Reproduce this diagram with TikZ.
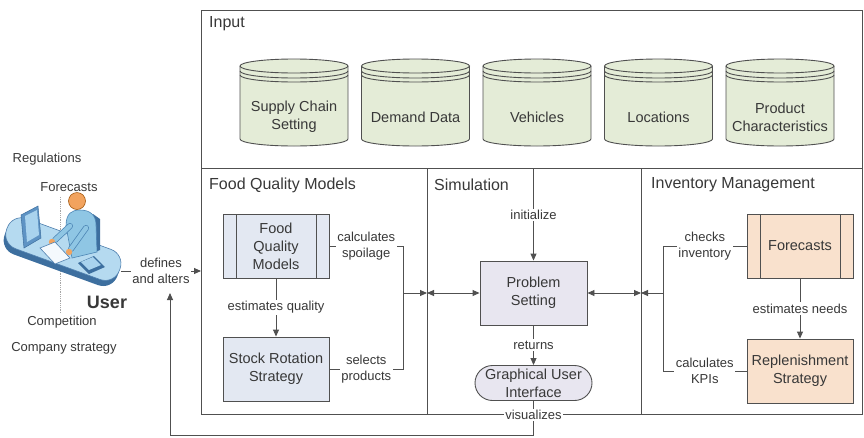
\documentclass[tikz,border=0pt]{standalone}
\usepackage{fontspec}
\setmainfont{Liberation Sans}
\usetikzlibrary{arrows.meta,shapes.misc}

\definecolor{ln}{HTML}{505050}
\definecolor{txt}{HTML}{383838}
\definecolor{cylfill}{HTML}{E4ECD7}
\definecolor{bluebox}{HTML}{E3E8F2}
\definecolor{lilac}{HTML}{E8E6F0}
\definecolor{peach}{HTML}{F9E1CD}
\definecolor{desktop}{HTML}{B5DAF0}
\definecolor{deskdark}{HTML}{3D6F9F}
\definecolor{deskline}{HTML}{4F7FAE}
\definecolor{shirt}{HTML}{8FC6E4}
\definecolor{shirtline}{HTML}{4D86B5}
\definecolor{skin}{HTML}{F2A35E}
\definecolor{monitor}{HTML}{5E93C4}
\definecolor{screen}{HTML}{A9D3EE}

% lower half of a 108 x 14 ellipse, from (#1-54,#2) to (#1+54,#2), bulging downwards
\newcommand\lowerhalf[2]{(#1-54,#2) .. controls (#1-54,#2+3.87) and (#1-29.8,#2+7) .. (#1,#2+7)
  .. controls (#1+29.8,#2+7) and (#1+54,#2+3.87) .. (#1+54,#2)}

\begin{document}
\begin{tikzpicture}[x=1pt,y=-1pt,
  every node/.style={text=txt, align=center, inner sep=0pt,
    font=\fontsize{14.5}{18}\selectfont},
  panel/.style={draw=ln, line width=1pt, anchor=north west},
  paneltitle/.style={anchor=west, font=\fontsize{16}{19}\selectfont},
  cylline/.style={draw=ln, line width=0.9pt},
  procbox/.style={draw=ln, line width=0.9pt, fill=#1,
    minimum width=106pt, minimum height=64pt,
    path picture={\draw[ln, line width=0.9pt]
      ([xshift=13pt]path picture bounding box.north west) --
      ([xshift=13pt]path picture bounding box.south west)
      ([xshift=-13pt]path picture bounding box.north east) --
      ([xshift=-13pt]path picture bounding box.south east);}},
  plainbox/.style={draw=ln, line width=0.9pt, fill=#1,
    minimum width=106pt, minimum height=64pt},
  lbl/.style={fill=white, inner sep=1.5pt, font=\fontsize{13}{15.5}\selectfont},
  side/.style={font=\fontsize{13}{15.5}\selectfont},
  link/.style={draw=ln, line width=0.9pt},
  arr/.style={-{Triangle[length=7pt,width=6pt]}},
  darr/.style={{Triangle[length=7pt,width=6pt]}-{Triangle[length=7pt,width=6pt]}}
]
\useasboundingbox (0,0) rectangle (864,437);

% ---- panels ----
\node[panel, minimum width=661pt, minimum height=158pt] (inp) at (201,10) {};
\node[panel, minimum width=226pt, minimum height=246pt] (fqp) at (201,168) {};
\node[panel, minimum width=214pt, minimum height=246pt] (simp) at (427,168) {};
\node[panel, minimum width=221pt, minimum height=246pt] (invp) at (641,168) {};

\node[paneltitle] (tinp) at (209,24) {Input};
\node[paneltitle] (tfq) at (209,185) {Food Quality Models};
\node[paneltitle] (tsim) at (434,185) {Simulation};
\node[paneltitle] (tinv) at (651,185) {Inventory Management};

% ---- data stores ----
\foreach \nm/\cx/\txt in {scs/294/{Supply Chain\\Setting}, dmd/415.5/{Demand Data},
    veh/537/{Vehicles}, loc/658.5/{Locations}, prc/780/{Product\\Characteristics}} {
  \fill[cylfill] (\cx-54,66) -- \lowerhalf{\cx}{139} -- (\cx+54,66) -- cycle;
  \fill[cylfill] (\cx,66) ellipse[x radius=54, y radius=7];
  \draw[cylline] (\cx-54,66) -- \lowerhalf{\cx}{139} -- (\cx+54,66);
  \draw[cylline] (\cx,66) ellipse[x radius=54, y radius=7];
  \draw[cylline] \lowerhalf{\cx}{71};
  \draw[cylline] \lowerhalf{\cx}{75};
  \node (\nm) at (\cx,117) {\txt};
}

% ---- food quality ----
\node[procbox=bluebox] (fqm) at (276,246) {Food\\Quality\\Models};
\node[plainbox=bluebox] (srs) at (276,369) {Stock Rotation\\Strategy};

% ---- simulation ----
\node[plainbox=lilac, minimum width=107pt] (ps) at (533.5,293) {Problem\\Setting};
\node[rounded rectangle, draw=ln, line width=0.9pt, fill=lilac,
  minimum width=117pt, minimum height=35pt] (gui) at (533.5,383) {Graphical User\\Interface};

% ---- inventory ----
\node[procbox=peach] (fc) at (800,246) {Forecasts};
\node[plainbox=peach] (rs) at (800,371) {Replenishment\\Strategy};

% ---- user side ----
\coordinate (dtop) at (60,197);
\coordinate (dbot) at (60,313);
\draw[gray!70, densely dotted, line width=0.8pt] (dtop) -- (dbot);

\begin{scope}[rotate around={-20:(63,250)}]
  \fill[deskdark, rounded corners=15pt] (3,239) rectangle (123,271);
  \fill[desktop, draw=deskline, line width=0.6pt, rounded corners=15pt] (3,233) rectangle (123,265);
\end{scope}
% monitor
\fill[monitor, draw=deskdark, line width=0.5pt] (21,215) -- (38,206) -- (41,238) -- (24,248) -- cycle;
\fill[screen] (25,216) -- (37,210) -- (39,235) -- (27,242) -- cycle;
% chair back and torso
\fill[deskdark] (93,214) -- (100,219) -- (100,250) -- (95,252) -- cycle;
\fill[shirt, draw=shirtline, line width=0.6pt] (66,226) .. controls (66,213) and (72,210) .. (80,210)
  .. controls (90,210) and (96,215) .. (96,225) -- (97,252) -- (72,258) -- cycle;
% arms and hands
\draw[shirtline, line width=6pt, line cap=round] (70,226) -- (55,240);
\draw[shirt, line width=4.5pt, line cap=round] (70,226) -- (55,240);
\draw[shirtline, line width=6pt, line cap=round] (86,228) -- (71,249);
\draw[shirt, line width=4.5pt, line cap=round] (86,228) -- (71,249);
\fill[skin] (52,242) circle (3.2);
\fill[skin] (69,252) circle (3.2);
% head
\fill[skin, draw=orange!60!black, line width=0.5pt] (77,201) circle (8.5);
% keyboard and device
\fill[white!85!desktop, draw=deskline, line width=0.6pt] (40,248) -- (55,242) -- (70,258) -- (55,264) -- cycle;
\fill[deskdark] (78,263) -- (94,256) -- (105,267) -- (89,274) -- cycle;
\fill[screen] (81,262) -- (93,257) -- (101,265) -- (89,270) -- cycle;

\coordinate (deskend) at (121,271);
\node[font=\bfseries\fontsize{18}{20}\selectfont] (user) at (107,302) {User};
\node[side] (regl) at (47,159) {Regulations};
\node[side] (fcst) at (69,187) {Forecasts};
\node[side] (comp) at (62,322) {Competition};
\node[side] (cstr) at (64,348) {Company strategy};

% ---- connectors ----
\coordinate (fqbr) at (403,293);
\coordinate (invbr) at (663,293);
\coordinate (fbcorner) at (533.5,435);
\coordinate (fbleft) at (170,435);
\coordinate (fbtip) at (170,293);

\draw[link, arr] (deskend) -- node[lbl]{defines\\and alters} (fqp.west |- deskend);

\draw[link, arr] (fqm.south) -- node[lbl]{estimates quality} (srs.north);
\draw[link] (fqm.east) -- node[lbl]{calculates\\spoilage} (fqm.east -| fqbr)
  -- (srs.east -| fqbr) -- node[lbl]{selects\\products} (srs.east);
\draw[link, arr] (fqbr) -- (simp.west |- fqbr);
\draw[link, darr] (simp.west |- ps) -- (ps.west);

\draw[link, arr] (ps |- inp.south) -- node[lbl]{initialize} (ps.north);
\draw[link, arr] (ps.south) -- node[lbl]{returns} (gui.north);
\draw[link, darr] (ps.east) -- (invp.west |- ps);

\draw[link, arr] (fc.south) -- node[lbl]{estimates needs} (rs.north);
\draw[link] (fc.west) -- node[lbl]{checks\\inventory} (fc.west -| invbr)
  -- (rs.west -| invbr) -- node[lbl]{calculates\\KPIs} (rs.west);
\draw[link, arr] (invbr) -- (invp.west |- invbr);

\draw[link, arr] (gui.south) -- (fqp.south -| gui.south) node[lbl]{visualizes}
  -- (fbcorner) -- (fbleft) -- (fbtip);
\end{tikzpicture}
\end{document}
